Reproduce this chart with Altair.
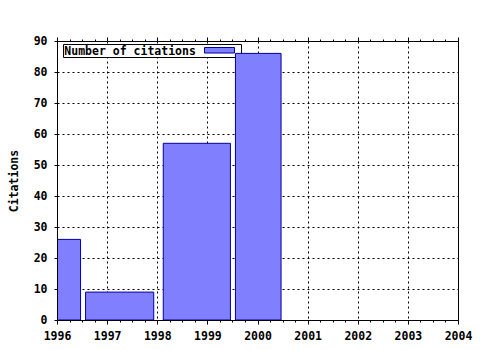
import altair as alt
import pandas as pd

# ---- data ----
years = ["1996", "1997", "1999", "2000"]
citations = [26, 9, 57, 86]
bar_start = [1995.55, 1996.57, 1998.12, 1999.56]
bar_end = [1996.47, 1997.93, 1999.46, 2000.47]
x_ticks = [1996, 1997, 1998, 1999, 2000, 2001, 2002, 2003, 2004]
y_ticks = [0, 10, 20, 30, 40, 50, 60, 70, 80, 90]
series_name = ["Number of citations"]
y_title = "Citations"

df = pd.DataFrame({"year": years, "citations": citations,
                   "start": bar_start, "end": bar_end})
leg = pd.DataFrame({"name": series_name})

FONT = "DejaVu Sans Mono"
FS = 11.5
FILL = "#8080ff"
EDGE = "#0000a0"
minor_ticks = [y + q for y in x_ticks[:-1] for q in (0.25, 0.5, 0.75)]

xscale = alt.Scale(domain=[x_ticks[0], x_ticks[-1]], nice=False, zero=False)
yscale = alt.Scale(domain=[y_ticks[0], y_ticks[-1]], nice=False)

base_axis = dict(domainColor="black", tickColor="black", labelColor="black",
                 labelFont=FONT, labelFontSize=FS, labelFontWeight="bold",
                 labelFlush=False, labelOverlap=False, title=None)

# grid layer (behind everything)
grid = alt.Chart(df).mark_point(opacity=0).encode(
    x=alt.X("start:Q", scale=xscale,
            axis=alt.Axis(orient="bottom", values=x_ticks, grid=True, gridColor="black",
                          gridDash=[2, 3], gridOpacity=1, labels=False, ticks=False,
                          domain=False, title=None, zindex=0)),
    y=alt.Y("citations:Q", scale=yscale,
            axis=alt.Axis(orient="left", values=y_ticks, grid=True, gridColor="black",
                          gridDash=[2, 3], gridOpacity=1, labels=False, ticks=False,
                          domain=False, title=None, zindex=0)),
)

# legend
leg_box = alt.Chart(leg).mark_rect(fill="white", stroke="black", strokeWidth=1).encode(
    x=alt.value(6.5), x2=alt.value(184.5), y=alt.value(3.5), y2=alt.value(16.5))
leg_text = alt.Chart(leg).mark_text(align="left", baseline="alphabetic", font=FONT,
                                    fontSize=FS, fontWeight="bold", color="black").encode(
    text="name:N", x=alt.value(7.3), y=alt.value(14.3))
leg_sample = alt.Chart(leg).mark_rect(fill=FILL, stroke=EDGE, strokeWidth=1).encode(
    x=alt.value(147.5), x2=alt.value(177.5), y=alt.value(6.5), y2=alt.value(12))

# bars with main axes
bars = alt.Chart(df).mark_rect(fill=FILL, stroke=EDGE, strokeWidth=1, clip=True).encode(
    x=alt.X("start:Q", scale=xscale,
            axis=alt.Axis(orient="bottom", values=x_ticks, format="d", grid=False,
                          tickSize=4, labelPadding=6, zindex=1, **base_axis)),
    x2="end:Q",
    y=alt.Y("citations:Q", scale=yscale,
            axis=alt.Axis(orient="left", values=y_ticks, format="d", grid=False,
                          tickSize=3, labelPadding=7, zindex=1,
                          **{**base_axis, "title": y_title},
                          titleFont=FONT, titleFontSize=FS, titleFontWeight="bold",
                          titleColor="black", titleX=-43, titleY=139.5,
                          titleAlign="center", titleBaseline="middle")),
    y2=alt.datum(0),
)

# top major ticks + right border
top = alt.Chart(df).mark_point(opacity=0).encode(
    x=alt.X("start:Q", scale=xscale,
            axis=alt.Axis(orient="top", values=x_ticks, grid=False, labels=False,
                          tickSize=4, zindex=1, **{k: v for k, v in base_axis.items()
                                                   if not k.startswith("label")})),
    y=alt.Y("citations:Q", scale=yscale,
            axis=alt.Axis(orient="right", values=y_ticks, grid=False, labels=False,
                          ticks=False, domainColor="black", title=None, zindex=1)),
)

# minor ticks bottom and top
minor_bottom = alt.Chart(df).mark_point(opacity=0).encode(
    x=alt.X("start:Q", scale=xscale,
            axis=alt.Axis(orient="bottom", values=minor_ticks, grid=False, labels=False,
                          tickSize=2, domain=False, tickColor="black", title=None, zindex=1)),
    y=alt.Y("citations:Q", scale=yscale, axis=None),
)
minor_top = alt.Chart(df).mark_point(opacity=0).encode(
    x=alt.X("start:Q", scale=xscale,
            axis=alt.Axis(orient="top", values=minor_ticks, grid=False, labels=False,
                          tickSize=2, domain=False, tickColor="black", title=None, zindex=1)),
    y=alt.Y("citations:Q", scale=yscale, axis=None),
)

chart = alt.layer(
    grid, leg_box, leg_text, leg_sample, bars, top, minor_bottom, minor_top
).resolve_axis(x="independent", y="independent").properties(
    width=401, height=279,
    autosize=alt.AutoSizeParams(type="none"),
    padding={"left": 57, "top": 41, "right": 22, "bottom": 30},
    background="white",
).configure_view(stroke=None)

chart.save("out.html", embed_options={"renderer": "svg", "actions": False})
